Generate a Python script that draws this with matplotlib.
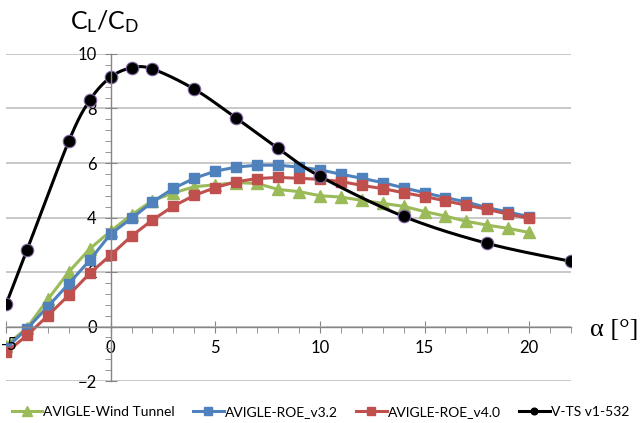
import numpy as np
import matplotlib
matplotlib.use('Agg')
import matplotlib.pyplot as plt
import matplotlib.transforms as mtransforms
from matplotlib.ticker import MultipleLocator

plt.rcParams['font.family'] = ['Lato', 'DejaVu Sans']

# angle of attack
alpha_wt = [-5, -4, -3, -2, -1, 0, 1, 2, 3, 4, 5, 6, 7, 8, 9, 10, 11, 12, 13, 14, 15, 16, 17, 18, 19, 20]
cl_cd_wt = [-0.7, -0.05, 1.0, 2.0, 2.85, 3.5, 4.1, 4.62, 4.9, 5.13, 5.2, 5.28, 5.25, 5.03, 4.95, 4.8,
            4.75, 4.63, 4.52, 4.41, 4.22, 4.05, 3.86, 3.72, 3.6, 3.45]
cl_cd_v32 = [-0.8, -0.08, 0.73, 1.57, 2.43, 3.4, 3.97, 4.57, 5.07, 5.44, 5.7, 5.85, 5.92, 5.92, 5.85, 5.75,
             5.59, 5.44, 5.28, 5.09, 4.91, 4.73, 4.57, 4.36, 4.2, 4.03]
cl_cd_v40 = [-0.95, -0.33, 0.4, 1.15, 1.95, 2.62, 3.32, 3.91, 4.42, 4.81, 5.1, 5.31, 5.43, 5.47, 5.44, 5.4,
             5.32, 5.18, 5.06, 4.91, 4.77, 4.61, 4.45, 4.3, 4.12, 3.97]
alpha_vts = [-5, -4, -2, -1, 0, 1, 2, 4, 6, 8, 10, 14, 18, 22]
cl_cd_vts = [0.81, 2.8, 6.8, 8.3, 9.15, 9.49, 9.45, 8.71, 7.65, 6.54, 5.51, 4.04, 3.05, 2.39]

xticks = [-5, 0, 5, 10, 15, 20]
labels = ['AVIGLE-Wind Tunnel', 'AVIGLE-ROE_v3.2', 'AVIGLE-ROE_v4.0', 'V-TS v1-532']


def smooth(x, y, n=20):
    # Excel style smoothed line (bezier through the points)
    p = np.column_stack([x, y]).astype(float)
    p = np.vstack([p[0], p, p[-1]])
    out = []
    t = np.linspace(0, 1, n)[:, None]
    for i in range(1, len(p) - 2):
        p0 = p[i]
        p3 = p[i + 1]
        p1 = p0 + (p[i + 1] - p[i - 1]) / 6.
        p2 = p3 - (p[i + 2] - p[i]) / 6.
        seg = (1 - t) ** 3 * p0 + 3 * (1 - t) ** 2 * t * p1 + 3 * (1 - t) * t ** 2 * p2 + t ** 3 * p3
        out.append(seg)
    out = np.vstack(out)
    return out[:, 0], out[:, 1]


fig = plt.figure(figsize=(6.41, 4.23), dpi=100)
ax = fig.add_axes([6 / 641., 42 / 423., 565 / 641., 327 / 423.])

ax.plot(alpha_wt, cl_cd_wt, color='#9BBB59', lw=2.2, marker='^', ms=8.5, label=labels[0])
ax.plot(alpha_wt, cl_cd_v32, color='#4F81BD', lw=2.2, marker='s', ms=6.5, label=labels[1])
ax.plot(alpha_wt, cl_cd_v40, color='#C0504D', lw=2.2, marker='s', ms=6.5, label=labels[2])
sx, sy = smooth(alpha_vts, cl_cd_vts)
ax.plot(sx, sy, color='black', lw=2.2)
ax.plot(alpha_vts, cl_cd_vts, ls='none', marker='o', ms=9, color='black',
        mec='#8064A2', mew=0.8)
ax.plot([], [], color='black', lw=2.2, marker='o', ms=6, label=labels[3])

ax.set_xlim(-5, 22)
ax.set_ylim(-2, 10)

ax.spines['left'].set_position(('data', 0))
ax.spines['bottom'].set_position(('data', 0))
ax.spines['top'].set_visible(False)
ax.spines['right'].set_visible(False)
for s in ['left', 'bottom']:
    ax.spines[s].set_color('#868686')
    ax.spines[s].set_linewidth(1.0)

# the -5 label sits inside the figure, drawn separately below
ax.set_xticks(xticks, [''] + [str(v) for v in xticks[1:]])
ax.xaxis.set_minor_locator(MultipleLocator(1))
ax.yaxis.set_major_locator(MultipleLocator(2))
ax.yaxis.set_minor_locator(MultipleLocator(0.4))
ax.tick_params(axis='both', which='major', direction='inout', length=8, color='#868686',
               labelsize=12)
ax.tick_params(axis='x', which='minor', direction='out', length=4, color='#868686')
ax.tick_params(axis='y', which='minor', direction='out', length=4, color='#868686')
ax.tick_params(axis='x', pad=6)
ax.tick_params(axis='y', pad=6)

trans = ax.transData + mtransforms.ScaledTranslation(-5 / 100., -10 / 100., fig.dpi_scale_trans)
ax.text(xticks[0], 0, str(xticks[0]), transform=trans, ha='left', va='top', fontsize=12)

ax.yaxis.grid(True, color='#BFBFBF', lw=1.2)
ax.set_axisbelow(True)

fig.text(70 / 641., 1 - 22 / 423., r'$\mathregular{C_L/C_D}$', fontsize=18, va='center', ha='left')
fig.text(590 / 641., 1 - 330 / 423., u'\u03b1 [\u00b0]', fontsize=19, va='center', ha='left',
         family='Liberation Serif')

ax.legend(loc='center', bbox_to_anchor=(0.5, 11 / 423.), bbox_transform=fig.transFigure,
          ncol=4, frameon=False, fontsize=10, handlelength=2.2, handletextpad=0.1,
          columnspacing=1.3, markerscale=0.8, borderpad=0, borderaxespad=0)

plt.savefig('out.png', dpi=100)
plt.close(fig)
